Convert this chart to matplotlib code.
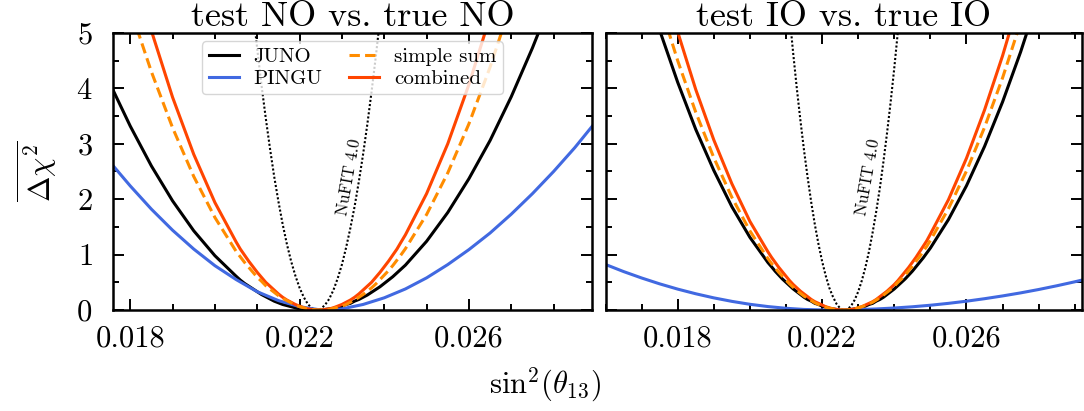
import matplotlib
matplotlib.use("Agg")
import matplotlib.pyplot as plt
from matplotlib.ticker import MultipleLocator

plt.rcParams["font.family"] = "serif"
plt.rcParams["font.serif"] = ["cmr10"]
plt.rcParams["mathtext.fontset"] = "cm"
plt.rcParams["axes.formatter.use_mathtext"] = True
plt.rcParams["axes.unicode_minus"] = False

# sin^2(theta13) sample points (denser near the minimum)
sin2_no = [0.0175, 0.0180, 0.0185, 0.0190, 0.0195, 0.0200, 0.0205,
           0.0206, 0.0207, 0.0208, 0.0209, 0.0210, 0.0211, 0.0212, 0.0213,
           0.0214, 0.0215, 0.0216, 0.0217, 0.0218, 0.0219, 0.0220, 0.0221,
           0.0222, 0.0223, 0.0224, 0.0225, 0.0226, 0.0227, 0.0228, 0.0229,
           0.0230, 0.0231, 0.0232, 0.0233, 0.0234, 0.0235, 0.0236, 0.0237,
           0.0238, 0.0239, 0.0240, 0.0241, 0.0242, 0.0243, 0.0244,
           0.0245, 0.0250, 0.0255, 0.0260, 0.0265, 0.0270, 0.0275, 0.0280,
           0.0285, 0.0290]
sin2_io = [0.0160, 0.0165, 0.0170, 0.0175, 0.0180, 0.0185, 0.0190, 0.0195,
           0.0200, 0.0205,
           0.0206, 0.0207, 0.0208, 0.0209, 0.0210, 0.0211, 0.0212, 0.0213,
           0.0214, 0.0215, 0.0216, 0.0217, 0.0218, 0.0219, 0.0220, 0.0221,
           0.0222, 0.0223, 0.0224, 0.0225, 0.0226, 0.0227, 0.0228, 0.0229,
           0.0230, 0.0231, 0.0232, 0.0233, 0.0234, 0.0235, 0.0236, 0.0237,
           0.0238, 0.0239, 0.0240, 0.0241, 0.0242, 0.0243, 0.0244, 0.0245,
           0.0246, 0.0247, 0.0248, 0.0249,
           0.0250, 0.0255, 0.0260, 0.0265, 0.0270, 0.0275, 0.0280, 0.0285,
           0.0290, 0.0295]
# PINGU is wide, a coarse grid is enough
pingu_no_x = [0.0175, 0.0180, 0.0185, 0.0190, 0.0195, 0.0200, 0.0205, 0.0210,
              0.0215, 0.0220, 0.0225, 0.0230, 0.0235, 0.0240, 0.0245, 0.0250,
              0.0255, 0.0260, 0.0265, 0.0270, 0.0275, 0.0280, 0.0285, 0.0290]
pingu_io_x = [0.0160, 0.0165, 0.0170, 0.0175, 0.0180, 0.0185, 0.0190, 0.0195,
              0.0200, 0.0205, 0.0210, 0.0215, 0.0220, 0.0225, 0.0230, 0.0235,
              0.0240, 0.0245, 0.0250, 0.0255, 0.0260, 0.0265, 0.0270, 0.0275,
              0.0280, 0.0285, 0.0290, 0.0295]

# test NO vs. true NO
juno_no = [4.12, 3.32, 2.60, 1.97, 1.43, 0.98, 0.61,
           0.54, 0.48, 0.43, 0.38, 0.33, 0.28, 0.24, 0.20, 0.16, 0.13,
           0.10, 0.08, 0.06, 0.04, 0.02, 0.01, 0.01, 0.00, 0.00, 0.00,
           0.01, 0.02, 0.03, 0.05, 0.07, 0.10, 0.12, 0.16, 0.19, 0.23,
           0.27, 0.32, 0.37, 0.42, 0.48, 0.54, 0.60, 0.67, 0.74,
           0.81, 1.24, 1.76, 2.37, 3.06, 3.85, 4.73, 5.69, 6.75, 7.89]
sum_no = [6.73, 5.44, 4.30, 3.29, 2.41, 1.67, 1.06,
          0.96, 0.86, 0.77, 0.68, 0.59, 0.52, 0.44, 0.38, 0.32, 0.26,
          0.21, 0.17, 0.13, 0.09, 0.06, 0.04, 0.02, 0.01, 0.00, 0.00,
          0.00, 0.01, 0.03, 0.05, 0.07, 0.10, 0.14, 0.18, 0.23, 0.28,
          0.34, 0.40, 0.47, 0.55, 0.63, 0.71, 0.80, 0.90, 1.00,
          1.107, 1.723, 2.474, 3.361, 4.384, 5.542, 6.836, 8.27, 9.83, 11.53]
comb_no = [7.91, 6.39, 5.04, 3.84, 2.81, 1.94, 1.23,
           1.10, 0.99, 0.88, 0.78, 0.68, 0.59, 0.50, 0.43, 0.36, 0.29,
           0.23, 0.18, 0.14, 0.10, 0.07, 0.04, 0.02, 0.01, 0.00, 0.00,
           0.01, 0.02, 0.04, 0.07, 0.10, 0.14, 0.18, 0.23, 0.29, 0.36,
           0.43, 0.50, 0.59, 0.68, 0.78, 0.88, 0.99, 1.10, 1.23,
           1.357, 2.10, 3.00, 4.07, 5.30, 6.68, 8.23, 9.94, 11.8, 13.85]
pingu_no = [2.69, 2.24, 1.82, 1.44, 1.10, 0.80, 0.55, 0.33, 0.17, 0.06,
            0.00, 0.02, 0.10, 0.22, 0.38, 0.58, 0.82, 1.09, 1.39, 1.73,
            2.10, 2.50, 2.93, 3.40]

# test IO vs. true IO
juno_io = [8.45, 7.22, 6.09, 5.05, 4.11, 3.26, 2.52, 1.865, 1.312, 0.856,
           0.78, 0.70, 0.63, 0.56, 0.50, 0.44, 0.38, 0.33, 0.28, 0.23,
           0.19, 0.16, 0.12, 0.10, 0.07, 0.05, 0.03, 0.02, 0.01, 0.00,
           0.00, 0.00, 0.01, 0.02, 0.03, 0.05, 0.07, 0.10, 0.12, 0.16,
           0.19, 0.23, 0.28, 0.33, 0.38, 0.44, 0.50, 0.56, 0.63, 0.70,
           0.78, 0.86, 0.94, 1.03,
           1.118, 1.632, 2.243, 2.952, 3.757, 4.659, 5.659, 6.755, 7.95, 9.24]
sum_io = [9.29, 7.93, 6.68, 5.54, 4.50, 3.57, 2.75, 2.035, 1.428, 0.928,
          0.84, 0.76, 0.68, 0.61, 0.54, 0.47, 0.41, 0.35, 0.30, 0.25,
          0.21, 0.17, 0.13, 0.10, 0.07, 0.05, 0.03, 0.02, 0.01, 0.00,
          0.00, 0.00, 0.01, 0.02, 0.04, 0.06, 0.08, 0.11, 0.14, 0.18,
          0.22, 0.27, 0.32, 0.37, 0.43, 0.50, 0.56, 0.63, 0.71, 0.79,
          0.88, 0.96, 1.06, 1.15,
          1.256, 1.829, 2.509, 3.297, 4.191, 5.193, 6.303, 7.52, 8.84, 10.27]
comb_io = [10.32, 8.82, 7.43, 6.17, 5.02, 3.98, 3.07, 2.28, 1.60, 1.05,
           0.95, 0.86, 0.77, 0.69, 0.61, 0.53, 0.46, 0.40, 0.34, 0.29,
           0.24, 0.19, 0.15, 0.12, 0.09, 0.06, 0.04, 0.02, 0.01, 0.00,
           0.00, 0.00, 0.01, 0.02, 0.04, 0.06, 0.09, 0.12, 0.15, 0.19,
           0.24, 0.29, 0.34, 0.40, 0.46, 0.53, 0.61, 0.69, 0.77, 0.86,
           0.95, 1.05, 1.15, 1.25,
           1.37, 1.99, 2.74, 3.61, 4.59, 5.69, 6.91, 8.25, 9.71, 11.28]
pingu_io = [0.822, 0.694, 0.578, 0.472, 0.377, 0.293, 0.219, 0.156, 0.103,
            0.062, 0.031, 0.010, 0.001, 0.001, 0.007, 0.019, 0.036, 0.058,
            0.086, 0.120, 0.159, 0.204, 0.254, 0.309, 0.370, 0.437, 0.509,
            0.587]

# NuFIT 4.0 global fit
nufit_no_x = [0.0208, 0.0209, 0.0210, 0.0211, 0.0212, 0.0213, 0.0214, 0.0215,
              0.0216, 0.0217, 0.0218, 0.0219, 0.0220, 0.0221, 0.0222, 0.0223,
              0.0224, 0.0225, 0.0226, 0.0227, 0.0228, 0.0229, 0.0230, 0.0231,
              0.0232, 0.0233, 0.0234, 0.0235, 0.0236, 0.0237, 0.0238, 0.0239,
              0.0240]
nufit_no = [6.14, 5.40, 4.71, 4.06, 3.47, 2.92, 2.41, 1.96, 1.55, 1.19, 0.88,
            0.62, 0.40, 0.23, 0.10, 0.03, 0.00, 0.02, 0.09, 0.20, 0.36, 0.57,
            0.82, 1.13, 1.48, 1.87, 2.32, 2.81, 3.35, 3.94, 4.57, 5.25, 5.98]
nufit_io_x = [0.0210, 0.0211, 0.0212, 0.0213, 0.0214, 0.0215, 0.0216, 0.0217,
              0.0218, 0.0219, 0.0220, 0.0221, 0.0222, 0.0223, 0.0224, 0.0225,
              0.0226, 0.0227, 0.0228, 0.0229, 0.0230, 0.0231, 0.0232, 0.0233,
              0.0234, 0.0235, 0.0236, 0.0237, 0.0238, 0.0239, 0.0240, 0.0241,
              0.0242, 0.0243]
nufit_io = [6.02, 5.30, 4.63, 4.00, 3.42, 2.88, 2.39, 1.94, 1.54, 1.19, 0.88,
            0.62, 0.40, 0.24, 0.11, 0.03, 0.00, 0.01, 0.07, 0.18, 0.33, 0.53,
            0.77, 1.06, 1.40, 1.78, 2.20, 2.68, 3.20, 3.76, 4.37, 5.03, 5.73,
            6.48]

xticks = [0.018, 0.022, 0.026]
xtick_labels = ["0.018", "0.022", "0.026"]

JUNO_C = "black"
PINGU_C = "#4169e1"
SUM_C = "#ff8c00"
COMB_C = "#ff4500"


def draw_panel(ax, x, juno, px, pingu, ssum, comb, nx, ny, title, xlim, text_pos):
    ax.plot(nx, ny, color="black", lw=1.5, ls=(0, (1, 1)))
    ax.plot(x, juno, color=JUNO_C, lw=2.2, label="JUNO")
    ax.plot(px, pingu, color=PINGU_C, lw=2.2, label="PINGU")
    ax.plot(x, comb, color=COMB_C, lw=2.2, label="combined")
    ax.plot(x, ssum, color=SUM_C, lw=2.2, ls=(0, (3.4, 1.7)), label="simple sum")
    ax.text(text_pos[0], text_pos[1], "NuFIT 4.0", rotation=80, fontsize=12,
            ha="center", va="center", rotation_mode="anchor")
    ax.set_xlim(*xlim)
    ax.set_ylim(0, 5)
    ax.set_title(title, fontsize=26, pad=5)
    ax.set_xticks(xticks, xtick_labels)
    ax.xaxis.set_minor_locator(MultipleLocator(0.001))
    ax.yaxis.set_major_locator(MultipleLocator(1))
    ax.yaxis.set_minor_locator(MultipleLocator(0.5))
    ax.tick_params(which="both", direction="in", top=True, right=True,
                   width=1.4, labelsize=22)
    ax.tick_params(axis="x", pad=11)
    ax.tick_params(axis="y", pad=15)
    ax.tick_params(which="major", length=8)
    ax.tick_params(which="minor", length=4.5)
    for s in ax.spines.values():
        s.set_linewidth(1.8)


fig = plt.figure(figsize=(10.84, 4.11), dpi=100)
ax1 = fig.add_axes([113.3 / 1084, 101 / 411, 478.4 / 1084, 277 / 411])
ax2 = fig.add_axes([605.5 / 1084, 101 / 411, 476.5 / 1084, 277 / 411])

draw_panel(ax1, sin2_no, juno_no, pingu_no_x, pingu_no, sum_no, comb_no,
           nufit_no_x, nufit_no, "test NO vs. true NO", (0.0176, 0.0289),
           (0.02316, 2.4))
draw_panel(ax2, sin2_io, juno_io, pingu_io_x, pingu_io, sum_io, comb_io,
           nufit_io_x, nufit_io, "test IO vs. true IO", (0.0160, 0.0292),
           (0.02327, 2.4))
ax2.set_yticklabels([])

handles, labels = ax1.get_legend_handles_labels()
order = [0, 1, 3, 2]
ax1.legend([handles[i] for i in order], [labels[i] for i in order],
           loc="upper center", ncol=2, fontsize=15, borderaxespad=0.4,
           handlelength=1.45, columnspacing=1.3, labelspacing=0.15,
           borderpad=0.3, handletextpad=0.7)

ax1.set_ylabel(r"$\overline{\Delta\chi^2}$", fontsize=22, labelpad=12)
fig.text(0.503, 0.065, r"$\mathrm{sin}^2(\theta_{13})$", fontsize=22,
         ha="center", va="center")

fig.savefig("out.png", dpi=100)
